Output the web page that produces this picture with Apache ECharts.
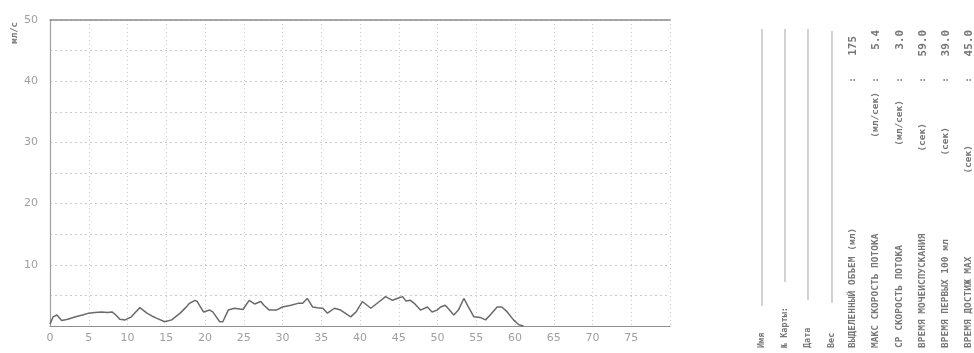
<!DOCTYPE html>
<html>
<head>
<meta charset="utf-8">
<script src="https://cdn.jsdelivr.net/npm/echarts@6/dist/echarts.min.js"></script>
<style>
  html, body { margin: 0; padding: 0; background: #fff; }
  #chart { width: 974px; height: 353px; }
</style>
</head>
<body>
<div id="chart"></div>
<script>
// Uroflow curve: time (s) and flow rate (ml/s)
const timeSec = [0, 0.4, 0.9, 1.5, 2.3, 3.3, 4.2, 5.0, 5.8, 6.7, 7.4, 8.0, 8.5, 9.0, 9.7, 10.5, 11.0, 11.6, 12.5, 13.2,
  13.8, 14.8, 15.7, 16.8, 17.5, 18.0, 18.7, 19.0, 19.8, 20.6, 21.0, 21.9, 22.3, 23.0, 23.8, 24.9, 25.7, 26.4, 27.2, 27.6,
  28.3, 29.2, 30.0, 31.1, 32.0, 32.6, 33.2, 33.9, 34.5, 35.2, 35.8, 36.7, 37.5, 38.8, 39.5, 40.3, 41.4, 42.5, 43.3, 44.2,
  44.8, 45.5, 45.9, 46.5, 47.0, 47.8, 48.7, 49.3, 49.95, 50.4, 51.0, 51.5, 52.1, 52.7, 53.4, 54.0, 54.7, 55.5, 56.2, 56.8,
  57.7, 58.3, 59.0, 59.8, 60.5, 61.1];
const flowRate = [0.3, 1.5, 1.8, 0.9, 1.1, 1.5, 1.8, 2.1, 2.2, 2.3, 2.2, 2.3, 1.8, 1.1, 1.0, 1.5, 2.2, 3.0, 2.1, 1.6,
  1.25, 0.7, 1.0, 2.1, 3.0, 3.7, 4.2, 4.0, 2.3, 2.6, 2.3, 0.7, 0.7, 2.6, 2.9, 2.7, 4.2, 3.6, 4.0, 3.4,
  2.6, 2.6, 3.1, 3.4, 3.7, 3.7, 4.5, 3.1, 3.0, 2.9, 2.1, 2.9, 2.6, 1.5, 2.3, 4.0, 2.9, 4.0, 4.8, 4.2,
  4.5, 4.8, 4.1, 4.2, 3.7, 2.6, 3.1, 2.3, 2.6, 3.1, 3.4, 2.7, 1.8, 2.6, 4.5, 3.1, 1.5, 1.4, 1.0, 1.8,
  3.1, 3.1, 2.3, 1.0, 0.2, 0];

// Patient form fields and measured results (printed sideways)
const fieldLabels = ['Имя', '№ Карты:', 'Дата', 'Вес'];
const resultLabels = ['ВЫДЕЛЕННЫЙ ОБЪЕМ (мл)', 'МАКС СКОРОСТЬ ПОТОКА', 'СР СКОРОСТЬ ПОТОКА',
  'ВРЕМЯ МОЧЕИСПУСКАНИЯ', 'ВРЕМЯ ПЕРВЫХ 100 мл', 'ВРЕМЯ ДОСТИЖ МАХ'];
const resultUnits = ['', '(мл/сек)', '(мл/сек)', '(сек)', '(сек)', '(сек)'];
const resultValues = ['175', '5.4', '3.0', '59.0', '39.0', '45.0'];

const yAxisName = 'мл/с';

const chart = echarts.init(document.getElementById('chart'), null, { renderer: 'canvas' });

const textColor = '#777777';
const gridColor = '#cccccc';
const monoFont = '"DejaVu Sans Mono", monospace';
const ROT = Math.PI / 2; // text reads bottom-to-top

function sideText(x, y, text, size, align, weight) {
  return {
    type: 'text', x: x, y: y, rotation: ROT,
    style: {
      text: text, fill: textColor,
      font: (weight || 'normal') + ' ' + size + 'px ' + monoFont,
      textAlign: align, textVerticalAlign: 'middle'
    }
  };
}

const graphics = [];
graphics.push(sideText(15, 22, yAxisName, 9, 'right', 'bold'));

// Blank form lines with their captions underneath
const fieldX = [762, 785, 808, 832];
const fieldLineTop = [29, 29, 29, 31];
const fieldLineEnd = [306, 282, 300, 303];
fieldLabels.forEach((lab, i) => {
  graphics.push(sideText(fieldX[i], 348, lab, 8.5, 'left', 'bold'));
  graphics.push({
    type: 'line', shape: { x1: fieldX[i], y1: fieldLineTop[i], x2: fieldX[i], y2: fieldLineEnd[i] },
    style: { stroke: '#b5b5b5', lineWidth: 1.2 }
  });
});

// Measurement results: caption, unit, separator, value
const resultX = [853, 876, 900, 923, 946, 969];
const unitTop = [0, 92, 100, 123, 127, 145];
resultLabels.forEach((lab, i) => {
  graphics.push(sideText(resultX[i], 348, lab, 9.5, 'left', 'bold'));
  if (resultUnits[i]) {
    graphics.push(sideText(resultX[i], unitTop[i], resultUnits[i], 9.5, 'right', 'bold'));
  }
  graphics.push(sideText(resultX[i], 80, ':', 9, 'center', 'bold'));
  graphics.push(sideText(resultX[i], i === 0 ? 36 : 30, resultValues[i], 11, 'right', 'bold'));
});

chart.setOption({
  animation: false,
  backgroundColor: '#ffffff',
  grid: { left: 50, top: 20, right: 304, bottom: 27, containLabel: false },
  xAxis: [{
    type: 'value', min: 0, max: 80, interval: 5,
    axisLine: { show: true, lineStyle: { color: '#8f8f8f', width: 1.2 } },
    axisTick: { show: false },
    axisLabel: {
      color: '#a0a0a0', fontSize: 11, fontFamily: 'DejaVu Sans', margin: 7,
      formatter: v => (v >= 80 ? '' : String(v))
    },
    splitLine: { show: true, lineStyle: { color: gridColor, type: [1, 3], width: 1 } }
  }, {
    type: 'value', position: 'top', min: 0, max: 80,
    axisLine: { show: true, lineStyle: { color: '#8c8c8c', width: 1.5 } },
    axisTick: { show: false }, axisLabel: { show: false }, splitLine: { show: false }
  }],
  yAxis: {
    type: 'value', min: 0, max: 50, interval: 5,
    axisLine: { show: true, lineStyle: { color: '#a0a0a0', width: 1.2 } },
    axisTick: { show: false },
    axisLabel: {
      color: '#a0a0a0', fontSize: 11, fontFamily: 'DejaVu Sans', margin: 12,
      formatter: v => (v > 0 && v % 10 === 0 ? String(v) : '')
    },
    splitLine: { show: true, lineStyle: { color: gridColor, type: [2, 3], width: 1 } }
  },
  series: [{
    type: 'line',
    xAxisIndex: 0,
    data: timeSec.map((t, i) => [t, flowRate[i]]),
    showSymbol: false,
    smooth: false,
    lineStyle: { color: '#6a6a6a', width: 1.5 }
  }],
  graphic: graphics
});
</script>
</body>
</html>
